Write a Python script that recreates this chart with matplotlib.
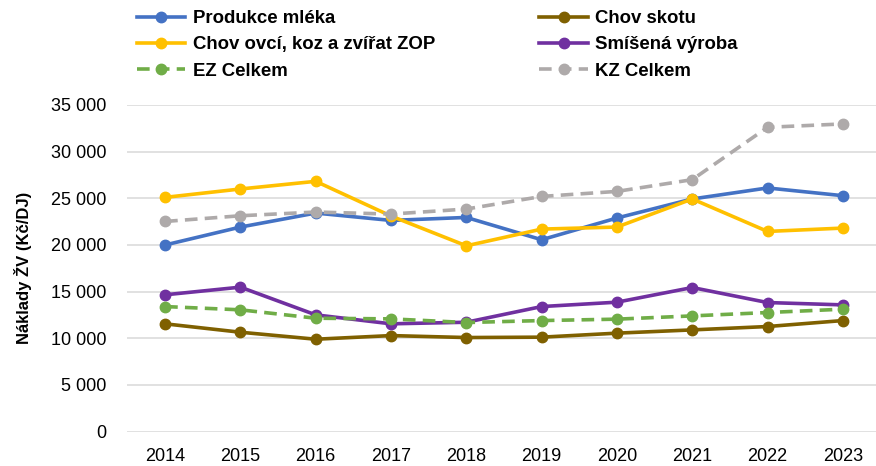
import matplotlib
matplotlib.use("Agg")
import matplotlib.pyplot as plt
from matplotlib.ticker import FuncFormatter

plt.rcParams["font.family"] = ["Liberation Sans", "DejaVu Sans"]

years = ["2014", "2015", "2016", "2017", "2018", "2019", "2020", "2021", "2022", "2023"]

produkce_mleka = [20000, 21920, 23420, 22630, 22950, 20560, 22890, 24930, 26110, 25280]
chov_skotu = [11550, 10650, 9900, 10290, 10080, 10120, 10550, 10900, 11260, 11900]
chov_ovci = [25100, 26000, 26820, 23100, 19910, 21700, 21920, 24930, 21450, 21810]
smisena_vyroba = [14660, 15480, 12510, 11550, 11720, 13400, 13870, 15440, 13830, 13580]
ez_celkem = [13400, 13050, 12150, 12080, 11690, 11900, 12050, 12400, 12760, 13120]
kz_celkem = [22520, 23130, 23530, 23310, 23850, 25200, 25740, 27000, 32610, 32970]

series = [
    ("Produkce mléka", produkce_mleka, "#4472C4", "-"),
    ("Chov skotu", chov_skotu, "#7F6000", "-"),
    ("Chov ovcí, koz a zvířat ZOP", chov_ovci, "#FFC000", "-"),
    ("Smíšená výroba", smisena_vyroba, "#7030A0", "-"),
    ("EZ Celkem", ez_celkem, "#70AD47", "--"),
    ("KZ Celkem", kz_celkem, "#AEAAAA", "--"),
]

fig = plt.figure(figsize=(8.76, 4.66), dpi=100)
ax = fig.add_axes([0.1455, 0.0738, 0.8545, 0.7009])

x = list(range(len(years)))
handles = {}
for i, (name, vals, color, ls) in enumerate(series):
    (h,) = ax.plot(x, vals, color=color, linestyle=ls, linewidth=2.6,
                   marker="o", markersize=7.5, label=name, zorder=3 + i,
                   dashes=(3.5, 2.0) if ls == "--" else (None, None))
    handles[name] = h

ax.set_xlim(-0.5, 9.44)
ax.set_ylim(0, 35000)
ax.set_yticks(range(0, 35001, 5000))
ax.yaxis.set_major_formatter(
    FuncFormatter(lambda v, p: f"{int(v):,}".replace(",", " ")))
ax.set_xticks(x)
ax.set_xticklabels(years)
ax.tick_params(axis="both", length=0, labelsize=13, colors="#000000")
ax.tick_params(axis="y", pad=15)
ax.tick_params(axis="x", pad=12)
ax.grid(axis="y", color="#D9D9D9", linewidth=1.1)
ax.set_axisbelow(True)
for s in ax.spines.values():
    s.set_visible(False)

ax.set_ylabel("Náklady ŽV (Kč/DJ)", fontsize=12, fontweight="bold", labelpad=14)

order = ["Produkce mléka", "Chov ovcí, koz a zvířat ZOP", "EZ Celkem",
         "Chov skotu", "Smíšená výroba", "KZ Celkem"]
fig.legend([handles[n] for n in order], order, ncol=2, loc="upper left",
           bbox_to_anchor=(137 / 876, 1 - 10 / 466), frameon=False,
           prop={"weight": "bold", "size": 13.4}, handlelength=2.6,
           handletextpad=0.4, columnspacing=5.6, labelspacing=0.5,
           borderpad=0, borderaxespad=0)

fig.savefig("out.png", dpi=100)
